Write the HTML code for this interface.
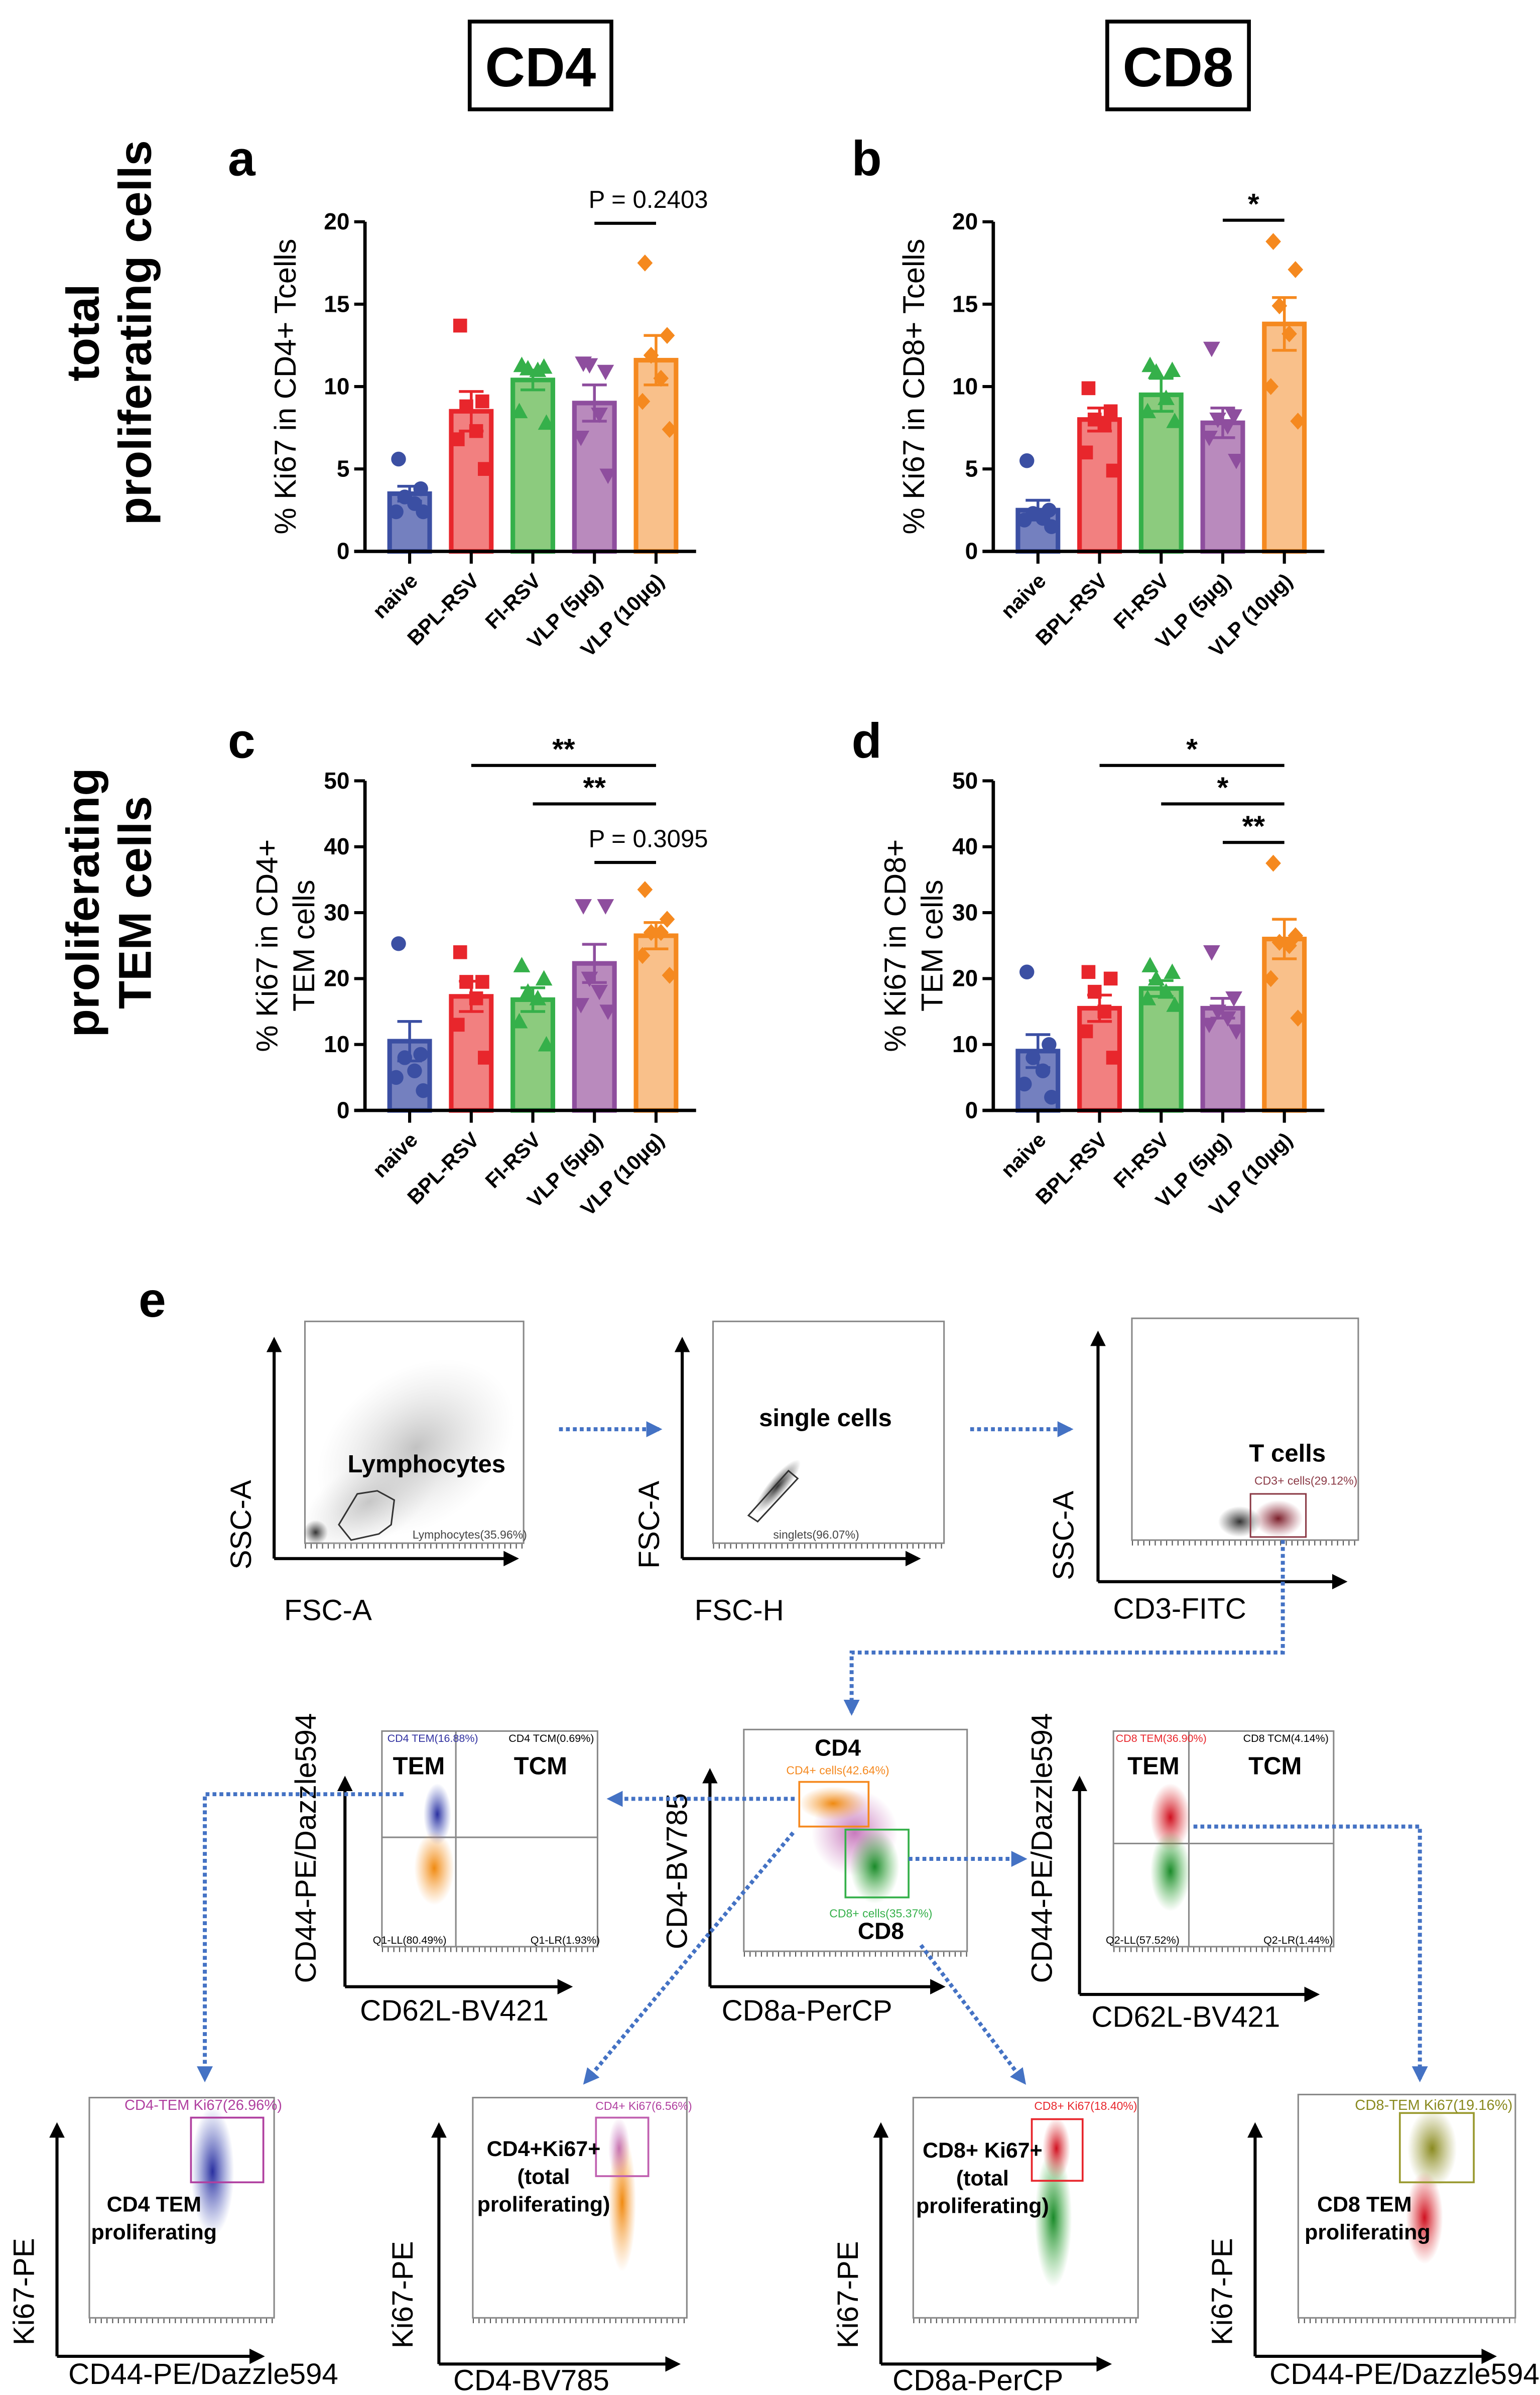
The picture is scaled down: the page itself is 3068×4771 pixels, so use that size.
<!DOCTYPE html>
<html><head><meta charset="utf-8"><style>
html,body{margin:0;padding:0;background:#fff}
svg{display:block}
text{font-family:"Liberation Sans",Arial,sans-serif}
.fl{font-family:"Liberation Sans Narrow","Liberation Sans",sans-serif}
</style></head><body>
<svg id="fig" xmlns="http://www.w3.org/2000/svg" width="3068" height="4771" viewBox="0 0 1000 1555.1">
<defs>
<marker id="ah" viewBox="0 0 10 10" refX="8" refY="5" markerWidth="4" markerHeight="4" orient="auto"><path d="M0,0L10,5L0,10z" fill="#4472c4"/></marker>
<marker id="ak" viewBox="0 0 10 10" refX="8" refY="5" markerWidth="5" markerHeight="5" orient="auto"><path d="M0,0L10,5L0,10z" fill="#000"/></marker>
<radialGradient id="gGray"><stop offset="0" stop-color="#bbb" stop-opacity=".9"/><stop offset="1" stop-color="#ddd" stop-opacity="0"/></radialGradient>
<radialGradient id="gDark"><stop offset="0" stop-color="#333"/><stop offset="1" stop-color="#555" stop-opacity="0"/></radialGradient>
<radialGradient id="gMar"><stop offset="0" stop-color="#7a1f2a"/><stop offset="1" stop-color="#a04050" stop-opacity="0"/></radialGradient>
<radialGradient id="gOr"><stop offset="0" stop-color="#f08a10"/><stop offset="1" stop-color="#f8a040" stop-opacity="0"/></radialGradient>
<radialGradient id="gGr"><stop offset="0" stop-color="#1a8a2a"/><stop offset="1" stop-color="#40b040" stop-opacity="0"/></radialGradient>
<radialGradient id="gBl"><stop offset="0" stop-color="#2a30a0"/><stop offset="1" stop-color="#5060c0" stop-opacity="0"/></radialGradient>
<radialGradient id="gRd"><stop offset="0" stop-color="#d01020"/><stop offset="1" stop-color="#e04040" stop-opacity="0"/></radialGradient>
<radialGradient id="gMg"><stop offset="0" stop-color="#b040a0" stop-opacity=".7"/><stop offset="1" stop-color="#c060b0" stop-opacity="0"/></radialGradient>
<radialGradient id="gOl"><stop offset="0" stop-color="#8a8a20"/><stop offset="1" stop-color="#a0a040" stop-opacity="0"/></radialGradient>
</defs>

<g><rect x="305" y="14" width="92" height="57" fill="none" stroke="#000" stroke-width="2.5"/><text x="351" y="56" font-size="36" font-weight="bold" text-anchor="middle">CD4</text></g>
<g><rect x="719" y="14" width="92" height="57" fill="none" stroke="#000" stroke-width="2.5"/><text x="765" y="56" font-size="36" font-weight="bold" text-anchor="middle">CD8</text></g>
<g transform="translate(72,216) rotate(-90)"><text y="-8" font-size="30" font-weight="bold" text-anchor="middle">total</text><text y="26" font-size="30" font-weight="bold" text-anchor="middle">proliferating cells</text></g>
<g transform="translate(72,586) rotate(-90)"><text y="-8" font-size="30" font-weight="bold" text-anchor="middle">proliferating</text><text y="26" font-size="30" font-weight="bold" text-anchor="middle">TEM cells</text></g>
<text x="148" y="114" font-size="32" font-weight="bold">a</text>
<text x="553" y="114" font-size="32" font-weight="bold">b</text>
<text x="148" y="492" font-size="32" font-weight="bold">c</text>
<text x="553" y="492" font-size="32" font-weight="bold">d</text>
<text x="90" y="855" font-size="32" font-weight="bold">e</text>
<g id="charts"></g>
<g id="flow"></g>
</svg>
<script>
const categories=["naive","BPL-RSV","FI-RSV","VLP (5\u00b5g)","VLP (10\u00b5g)"];
const aMeans=[3.5,8.5,10.4,9.0,11.6];
const aSem=[0.45,1.2,0.6,1.1,1.5];
const aPts=[[5.6,3.8,3.3,2.9,2.4,2.4],[13.7,9.1,8.8,7.3,6.8,5.0],[11.3,11.2,11.1,11.0,8.5,7.8],[11.4,10.9,11.3,8.3,6.9,4.6],[17.5,13.1,11.9,10.5,9.1,7.4]];
const bMeans=[2.5,8.0,9.5,7.8,13.8];
const bSem=[0.6,0.7,1.0,0.9,1.6];
const bPts=[[5.5,2.5,2.3,2.0,1.9,1.5],[9.9,8.5,8.0,7.8,6.0,4.9],[11.3,11.0,10.9,9.3,8.5,7.9],[12.3,8.2,8.0,7.6,6.9,5.5],[18.8,17.1,14.9,13.2,10.0,7.9]];
const cMeans=[10.5,17.3,16.8,22.3,26.5];
const cSem=[3.0,2.3,1.8,2.9,2.0];
const cPts=[[25.3,8.5,8,6,5,3],[24,19.5,19.5,17,13,8],[22,20,18,17,13.5,10],[31,31,20,18,16,15],[33.5,29,27,27,23.5,20.5]];
const dMeans=[9.0,15.5,18.5,15.5,26.0];
const dSem=[2.5,2.0,1.2,1.5,3.0];
const dPts=[[21,10,8,6,4,2],[21,20,18,15,12,8],[22,21,20,18,17,16],[24,17,15,14,13,12],[37.5,26.5,25.5,25,20,14]];
const ticks20=[0,5,10,15,20];
const ticks50=[0,10,20,30,40,50];

const NS="http://www.w3.org/2000/svg";
function mk(tag,at,parent){const e=document.createElementNS(NS,tag);for(const k in at)e.setAttribute(k,at[k]);parent.appendChild(e);return e;}
const fills=["#7480bf","#f28080","#8ccb7e","#b98abd","#f9c08a"];
const strokes=["#3b4fa3","#e8262c","#35b04a","#8e4e9e","#f5891f"];
const jit=[-9,9,-4,4,-11,11];

function chart(id,ax,y0,ytop,ymax,ticks,means,sem,pts,title,sigs){
  const root=document.getElementById('charts');
  const g=mk('g',{},root);
  
  
  const Y=v=>y0-(v/ymax)*(y0-ytop);
  const X=i=>ax+29+i*40;
  means.forEach((m,i)=>{
    const b=mk('rect',{x:X(i)-13,y:Y(m),width:26,height:y0-Y(m),fill:fills[i],stroke:strokes[i],'stroke-width':3},g);
    
    
  });
  means.forEach((m,i)=>{
    const e=mk('path',{d:`M${X(i)},${Y(m-sem[i])}V${Y(m+sem[i])}M${X(i)-8},${Y(m+sem[i])}H${X(i)+8}M${X(i)-8},${Y(m-sem[i])}H${X(i)+8}`,stroke:strokes[i],'stroke-width':1.8,fill:'none'},g);
    
    
  });
  pts.forEach((arr,i)=>arr.forEach((v,j)=>{
    const cx=X(i)+jit[j]*0.8, cy=Y(v), c=strokes[i];let p;
    if(i===0)p=mk('circle',{cx:cx,cy:cy,r:4.8,fill:c},g);
    else if(i===1)p=mk('rect',{x:cx-4.5,y:cy-4.5,width:9,height:9,fill:c},g);
    else if(i===2)p=mk('path',{d:`M${cx},${cy-5.5}L${cx+5.5},${cy+4.5}L${cx-5.5},${cy+4.5}z`,fill:c},g);
    else if(i===3)p=mk('path',{d:`M${cx},${cy+5.5}L${cx+5.5},${cy-4.5}L${cx-5.5},${cy-4.5}z`,fill:c},g);
    else p=mk('path',{d:`M${cx},${cy-5.5}L${cx+5},${cy}L${cx},${cy+5.5}L${cx-5},${cy}z`,fill:c},g);
    
    
  }));
  const ya=mk('path',{d:`M${ax},${ytop}V${y0}`,stroke:'#000','stroke-width':2.2,fill:'none'},g);
  
  
  const xa=mk('path',{d:`M${ax-7},${y0}H${ax+215}`,stroke:'#000','stroke-width':2.2,fill:'none'},g);
  
  
  ticks.forEach(t=>{
    mk('path',{d:`M${ax-7},${Y(t)}H${ax}`,stroke:'#000','stroke-width':2},g);
    const tl=mk('text',{x:ax-10,y:Y(t)+5,'font-size':15,'font-weight':'bold','text-anchor':'end'},g);
    tl.textContent=t;
    
    
  });
  categories.forEach((c,i)=>{
    mk('path',{d:`M${X(i)},${y0}V${y0+8}`,stroke:'#000','stroke-width':2},g);
    const tl=mk('text',{transform:`translate(${X(i)+6},${y0+20}) rotate(-45)`,'font-size':13.5,'font-weight':'bold','text-anchor':'end'},g);
    tl.textContent=c;
    
    
  });
  const tt=mk('g',{transform:`translate(${ax-45},${(y0+ytop)/2}) rotate(-90)`},g);
  
  
  title.forEach((s,k)=>{const t=mk('text',{x:0,y:(k-(title.length-1))*24+(title.length>1?12:0),'font-size':19.5,'text-anchor':'middle'},tt);t.textContent=s;});
  sigs.forEach(s=>{
    const sg=mk('g',{},g);
    
    
    mk('path',{d:`M${X(s[0])},${s[2]}H${X(s[1])}`,stroke:'#000','stroke-width':2},sg);
    const t=mk('text',{x:s[3]?X(s[1])-5:(X(s[0])+X(s[1]))/2,y:s[2]-(s[3]?10:4),'font-size':s[3]?16:19,'font-weight':s[3]?'normal':'bold','text-anchor':'middle'},sg);
    t.textContent=s[3]||s[4];
  });
}
chart('chart-a',237,358,144,20,ticks20,aMeans,aSem,aPts,['% Ki67 in CD4+ Tcells'],[[3,4,145,'P = 0.2403']]);
chart('chart-b',645,358,144,20,ticks20,bMeans,bSem,bPts,['% Ki67 in CD8+ Tcells'],[[3,4,143,null,'*']]);
chart('chart-c',237,721,507,50,ticks50,cMeans,cSem,cPts,['% Ki67 in CD4+','TEM cells'],[[1,4,497,null,'**'],[2,4,522,null,'**'],[3,4,560,'P = 0.3095']]);
chart('chart-d',645,721,507,50,ticks50,dMeans,dSem,dPts,['% Ki67 in CD8+','TEM cells'],[[1,4,497,null,'*'],[2,4,522,null,'*'],[3,4,547,null,'**']]);

const F=document.getElementById('flow');
function txt(p,x,y,s,size,o){const t=mk('text',Object.assign({x:x,y:y,'font-size':size,'text-anchor':'middle',class:'fl'},o||{}),p);t.textContent=s;return t;}
function plot(name,bx,by,bw,bh,axX,axY,axTop,axRight,ylab,ylx,yly,xlab,xlx,xly){
  const g=mk('g',{},F);
  
  
  mk('rect',{x:bx,y:by,width:bw,height:bh,fill:'#fff',stroke:'#888','stroke-width':1},g);
  mk('path',{d:`M${bx},${by+bh+2}h${bw}`,stroke:'#555','stroke-width':3,'stroke-dasharray':'0.7 3'},g);
  mk('path',{d:`M${axX},${axY}V${axTop}`,stroke:'#000','stroke-width':2,'marker-end':'url(#ak)'},g);
  mk('path',{d:`M${axX},${axY}H${axRight}`,stroke:'#000','stroke-width':2,'marker-end':'url(#ak)'},g);
  txt(g,0,0,ylab,19,{transform:`translate(${ylx},${yly}) rotate(-90)`});
  txt(g,xlx,xly,xlab,19);
  return g;
}
function blob(g,cx,cy,rx,ry,grad,rot){mk('ellipse',{cx:cx,cy:cy,rx:rx,ry:ry,fill:`url(#${grad})`,transform:`rotate(${rot||0} ${cx} ${cy})`},g);}
function arrow(name,d){const p=mk('path',{d:d,stroke:'#4472c4','stroke-width':2.6,'stroke-dasharray':'2.5 2',fill:'none','marker-end':'url(#ah)'},F);}

let g=plot('flow-lymphocytes',198,858,142,144,178,1012,870,335,'SSC-A',163,990,'FSC-A',213,1052);
blob(g,240,975,48,26,'gGray',-30);blob(g,205,995,8,8,'gDark');blob(g,270,940,70,50,'gGray',-35);
mk('path',{d:'M220,990L232,970L245,968L256,974L254,990L246,996L228,1000z',fill:'none',stroke:'#333','stroke-width':1},g);
txt(g,277,956,'Lymphocytes',16,{'font-weight':'bold'});txt(g,305,999,'Lymphocytes(35.96%)',7.5,{fill:'#444'});
g=plot('flow-singlets',463,858,150,144,443,1012,870,596,'FSC-A',428,990,'FSC-H',480,1052);
blob(g,505,965,22,6,'gDark',-50);
mk('path',{d:'M486,984L512,955L518,960L492,988z',fill:'none',stroke:'#333','stroke-width':1},g);
txt(g,536,926,'single cells',16,{'font-weight':'bold'});txt(g,530,999,'singlets(96.07%)',7.5,{fill:'#444'});
g=plot('flow-tcells',735,856,147,144,713,1027,866,873,'SSC-A',697,997,'CD3-FITC',766,1051);
blob(g,805,988,14,10,'gDark');blob(g,830,986,16,12,'gMar');
mk('rect',{x:812,y:970,width:36,height:28,fill:'none',stroke:'#8b3a46','stroke-width':1},g);
txt(g,836,949,'T cells',16,{'font-weight':'bold'});txt(g,848,964,'CD3+ cells(29.12%)',7.5,{fill:'#8b3a46'});

g=plot('flow-cd4-tem-tcm',248,1124,140,140,224,1290,1155,370,'CD44-PE/Dazzle594',205,1200,'CD62L-BV421',295,1312);
mk('path',{d:'M248,1193H388M296,1124V1264',stroke:'#888','stroke-width':1},g);
blob(g,284,1178,9,20,'gBl');blob(g,282,1213,13,24,'gOr');
txt(g,272,1152,'TEM',16,{'font-weight':'bold'});txt(g,351,1152,'TCM',16,{'font-weight':'bold'});
txt(g,281,1131,'CD4 TEM(16.88%)',7,{fill:'#3030a0'});txt(g,358,1131,'CD4 TCM(0.69%)',7);txt(g,266,1262,'Q1-LL(80.49%)',7);txt(g,367,1262,'Q1-LR(1.93%)',7);
g=plot('flow-cd4-cd8',483,1123,145,144,461,1290,1150,612,'CD4-BV785',446,1215,'CD8a-PerCP',524,1312);
blob(g,555,1190,28,28,'gMg');blob(g,541,1171,22,11,'gOr');blob(g,568,1212,16,24,'gGr');
mk('rect',{x:519,y:1157,width:45,height:29,fill:'none',stroke:'#f5891f','stroke-width':1.2},g);
mk('rect',{x:549,y:1188,width:41,height:44,fill:'none',stroke:'#35b04a','stroke-width':1.2},g);
txt(g,544,1140,'CD4',15,{'font-weight':'bold'});txt(g,544,1152,'CD4+ cells(42.64%)',7.5,{fill:'#f5891f'});
txt(g,572,1245,'CD8+ cells(35.37%)',7.5,{fill:'#35b04a'});txt(g,572,1259,'CD8',15,{'font-weight':'bold'});
g=plot('flow-cd8-tem-tcm',723,1124,143,140,701,1295,1155,855,'CD44-PE/Dazzle594',683,1200,'CD62L-BV421',770,1316);
mk('path',{d:'M723,1197H866M772,1124V1264',stroke:'#888','stroke-width':1},g);
blob(g,760,1180,13,22,'gRd');blob(g,760,1215,13,26,'gGr');
txt(g,749,1152,'TEM',16,{'font-weight':'bold'});txt(g,828,1152,'TCM',16,{'font-weight':'bold'});
txt(g,754,1131,'CD8 TEM(36.90%)',7,{fill:'#e8262c'});txt(g,835,1131,'CD8 TCM(4.14%)',7);txt(g,742,1262,'Q2-LL(57.52%)',7);txt(g,843,1262,'Q2-LR(1.44%)',7);

g=plot('flow-cd4-tem-ki67',58,1362,120,143,37,1530,1380,170,'Ki67-PE',22,1488,'CD44-PE/Dazzle594',132,1548);
blob(g,138,1410,14,42,'gBl');
mk('rect',{x:124,y:1375,width:47,height:42,fill:'none',stroke:'#b040a0','stroke-width':1.2},g);
txt(g,132,1370,'CD4-TEM Ki67(26.96%)',9.5,{fill:'#b040a0'});
txt(g,100,1436,'CD4 TEM',14,{'font-weight':'bold'});txt(g,100,1454,'proliferating',14,{'font-weight':'bold'});
g=plot('flow-cd4-ki67',307,1362,139,143,285,1535,1380,440,'Ki67-PE',268,1490,'CD4-BV785',345,1552);
blob(g,404,1430,9,45,'gOr');blob(g,402,1395,7,20,'gMg');
mk('rect',{x:387,y:1375,width:34,height:38,fill:'none',stroke:'#c060b0','stroke-width':1.2},g);
txt(g,418,1370,'CD4+ Ki67(6.56%)',7.5,{fill:'#b040a0'});
txt(g,353,1400,'CD4+Ki67+',14,{'font-weight':'bold'});txt(g,353,1418,'(total',14,{'font-weight':'bold'});txt(g,353,1436,'proliferating)',14,{'font-weight':'bold'});
g=plot('flow-cd8-ki67',593,1362,146,143,572,1535,1380,720,'Ki67-PE',557,1490,'CD8a-PerCP',635,1552);
blob(g,684,1440,12,45,'gGr');blob(g,686,1395,9,20,'gRd');
mk('rect',{x:670,y:1376,width:33,height:40,fill:'none',stroke:'#e8262c','stroke-width':1.2},g);
txt(g,705,1370,'CD8+ Ki67(18.40%)',7.5,{fill:'#e8262c'});
txt(g,638,1401,'CD8+ Ki67+',14,{'font-weight':'bold'});txt(g,638,1419,'(total',14,{'font-weight':'bold'});txt(g,638,1437,'proliferating)',14,{'font-weight':'bold'});
g=plot('flow-cd8-tem-ki67',843,1360,141,145,815,1530,1380,970,'Ki67-PE',800,1488,'CD44-PE/Dazzle594',912,1548);
blob(g,930,1395,16,26,'gOl');blob(g,925,1440,12,30,'gRd');
mk('rect',{x:909,y:1372,width:48,height:45,fill:'none',stroke:'#9a9a30','stroke-width':1.2},g);
txt(g,931,1370,'CD8-TEM Ki67(19.16%)',9.5,{fill:'#8a8a20'});
txt(g,886,1436,'CD8 TEM',14,{'font-weight':'bold'});txt(g,888,1454,'proliferating',14,{'font-weight':'bold'});

arrow('arrow-lymph-to-singlets','M363,928H428');
arrow('arrow-singlets-to-tcells','M630,928H695');
arrow('arrow-tcells-to-cd4cd8','M833,1000V1073H553V1112');
arrow('arrow-cd4-to-tem','M516,1168H396');
arrow('arrow-cd8-to-tem','M590,1207H665');
arrow('arrow-cd4tem-to-ki67','M262,1165H133V1350');
arrow('arrow-cd8tem-to-ki67','M775,1186H922V1350');
arrow('arrow-cd4-to-ki67','M515,1190L380,1352');
arrow('arrow-cd8-to-ki67','M598,1263L665,1352');
</script>
</body></html>
